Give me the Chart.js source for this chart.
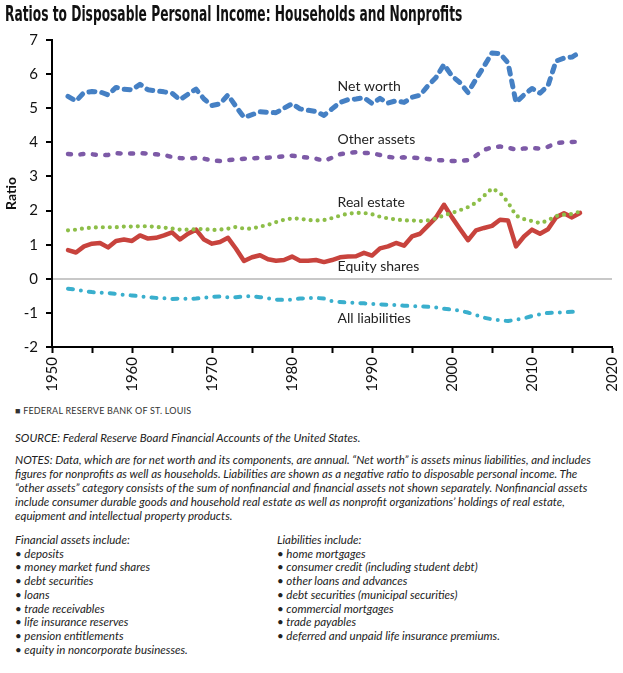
<!DOCTYPE html>
<html>
<head>
<meta charset="utf-8">
<script src="https://cdn.jsdelivr.net/npm/chart.js@4.4.1/dist/chart.umd.min.js"></script>
<style>
  body { margin: 0; background: #fff; width: 623px; height: 673px; position: relative; overflow: hidden; font-family: Lato, "Open Sans", sans-serif; color: #222; }
  #title { position: absolute; left: 5px; top: 2px; font-family: "Liberation Sans Narrow", "DejaVu Sans Condensed", sans-serif; font-weight: bold; font-size: 21px; white-space: nowrap; transform-origin: 0 0; color: #111; }
  #wrap { position: absolute; left: 0; top: 0; width: 623px; height: 400px; }
  #myChart { display: block; width: 623px; height: 400px; }
  .t { position: absolute; left: 15px; white-space: nowrap; font-style: italic; font-size: 11.5px; color: #222; }
  #frb { position: absolute; left: 15px; top: 405px; font-size: 9px; letter-spacing: 0.2px; color: #333; white-space: nowrap; }
  #notes { top: 453px; line-height: 14px; }
  .col { position: absolute; top: 533px; font-style: italic; font-size: 11.5px; line-height: 13.7px; white-space: nowrap; color: #222; }
</style>
</head>
<body>
<div id="wrap"><canvas id="myChart" width="623" height="400"></canvas></div>
<div id="title">Ratios to Disposable Personal Income: Households and Nonprofits</div>
<div id="frb">&#9632; FEDERAL RESERVE BANK OF ST. LOUIS</div>
<div class="t" style="top:431px">SOURCE: Federal Reserve Board Financial Accounts of the United States.</div>
<div class="t" id="notes">NOTES: Data, which are for net worth and its components, are annual. “Net worth” is assets minus liabilities, and includes<br>figures for nonprofits as well as households. Liabilities are shown as a negative ratio to disposable personal income. The<br>“other assets” category consists of the sum of nonfinancial and financial assets not shown separately. Nonfinancial assets<br>include consumer durable goods and household real estate as well as nonprofit organizations’ holdings of real estate,<br>equipment and intellectual property products.</div>
<div class="col" style="left:15px">Financial assets include:<br>• deposits<br>• money market fund shares<br>• debt securities<br>• loans<br>• trade receivables<br>• life insurance reserves<br>• pension entitlements<br>• equity in noncorporate businesses.</div>
<div class="col" style="left:277px">Liabilities include:<br>• home mortgages<br>• consumer credit (including student debt)<br>• other loans and advances<br>• debt securities (municipal securities)<br>• commercial mortgages<br>• trade payables<br>• deferred and unpaid life insurance premiums.</div>
<script>
var years = [];
for (var y = 1952; y <= 2016; y++) years.push(y);

var netWorth = [5.35, 5.21, 5.46, 5.49, 5.48, 5.39, 5.61, 5.56, 5.54, 5.70,
  5.54, 5.51, 5.48, 5.44, 5.25, 5.41, 5.56, 5.27, 5.08, 5.13,
  5.39, 5.05, 4.73, 4.81, 4.90, 4.88, 4.87, 5.00, 5.13, 4.98,
  4.94, 4.90, 4.79, 4.98, 5.17, 5.25, 5.27, 5.31, 5.14, 5.29,
  5.15, 5.22, 5.17, 5.32, 5.38, 5.66, 5.90, 6.28, 5.94, 5.75,
  5.46, 5.85, 6.23, 6.62, 6.60, 6.33, 5.17, 5.39, 5.58, 5.44,
  5.66, 6.38, 6.47, 6.50, 6.64];
var otherAssets = [3.66, 3.63, 3.66, 3.65, 3.62, 3.63, 3.68, 3.67, 3.67, 3.68,
  3.67, 3.65, 3.63, 3.57, 3.54, 3.53, 3.54, 3.52, 3.47, 3.45,
  3.48, 3.50, 3.52, 3.53, 3.55, 3.55, 3.57, 3.59, 3.61, 3.57,
  3.55, 3.52, 3.46, 3.55, 3.65, 3.69, 3.71, 3.69, 3.68, 3.63,
  3.57, 3.55, 3.56, 3.55, 3.54, 3.51, 3.48, 3.47, 3.45, 3.45,
  3.48, 3.61, 3.78, 3.85, 3.88, 3.84, 3.79, 3.82, 3.83, 3.82,
  3.87, 3.98, 4.00, 4.01, 4.02];
var realEstate = [1.42, 1.44, 1.48, 1.50, 1.51, 1.51, 1.51, 1.53, 1.53, 1.54,
  1.54, 1.52, 1.50, 1.47, 1.44, 1.44, 1.45, 1.46, 1.43, 1.44,
  1.47, 1.52, 1.47, 1.47, 1.53, 1.58, 1.66, 1.73, 1.77, 1.76,
  1.72, 1.71, 1.72, 1.78, 1.85, 1.91, 1.93, 1.93, 1.89, 1.82,
  1.77, 1.74, 1.71, 1.71, 1.69, 1.71, 1.77, 1.86, 1.93, 2.01,
  2.10, 2.23, 2.43, 2.65, 2.52, 2.24, 1.85, 1.75, 1.69, 1.63,
  1.71, 1.84, 1.88, 1.90, 1.97];
var equityShares = [0.84, 0.77, 0.95, 1.03, 1.05, 0.92, 1.11, 1.15, 1.11, 1.27,
  1.18, 1.20, 1.27, 1.36, 1.15, 1.32, 1.44, 1.15, 1.03, 1.08,
  1.20, 0.88, 0.52, 0.63, 0.69, 0.57, 0.53, 0.55, 0.65, 0.53,
  0.53, 0.55, 0.49, 0.55, 0.63, 0.65, 0.66, 0.76, 0.68, 0.89,
  0.95, 1.05, 0.97, 1.24, 1.32, 1.56, 1.80, 2.17, 1.80, 1.46,
  1.13, 1.42, 1.49, 1.55, 1.73, 1.71, 0.95, 1.24, 1.44, 1.32,
  1.45, 1.80, 1.92, 1.80, 1.93];
var allLiabilities = [-0.29, -0.32, -0.36, -0.39, -0.41, -0.42, -0.44, -0.47, -0.49, -0.51,
  -0.54, -0.56, -0.57, -0.59, -0.58, -0.59, -0.58, -0.56, -0.53, -0.52,
  -0.54, -0.54, -0.52, -0.51, -0.54, -0.57, -0.61, -0.62, -0.61, -0.58,
  -0.57, -0.56, -0.58, -0.66, -0.68, -0.70, -0.71, -0.72, -0.74, -0.75,
  -0.76, -0.77, -0.79, -0.80, -0.81, -0.82, -0.84, -0.88, -0.90, -0.94,
  -0.99, -1.06, -1.14, -1.19, -1.22, -1.24, -1.20, -1.16, -1.09, -1.04,
  -1.00, -0.99, -0.98, -0.97, -0.96];

// in-chart series names, anchored in data units
var seriesLabels = [
  { text: 'Net worth', x: 1985.7, y: 5.64 },
  { text: 'Other assets', x: 1985.7, y: 4.08 },
  { text: 'Real estate', x: 1985.7, y: 2.23 },
  { text: 'Equity shares', x: 1985.7, y: 0.36 },
  { text: 'All liabilities', x: 1985.7, y: -1.17 }
];

function pts(vals) {
  return years.map(function (yr, i) { return { x: yr, y: vals[i] }; });
}

function series(label, vals, color, width, dash) {
  return {
    label: label,
    data: pts(vals),
    borderColor: color,
    borderWidth: width,
    borderDash: dash,
    borderCapStyle: 'round',
    borderJoinStyle: 'round',
    pointRadius: 0,
    tension: 0,
    fill: false
  };
}

var labelPlugin = {
  id: 'seriesLabels',
  afterDatasetsDraw: function (chart) {
    var c = chart.ctx;
    var xs = chart.scales.x, ys = chart.scales.y;
    c.save();
    c.font = '14px Lato, sans-serif';
    c.fillStyle = '#222';
    c.textBaseline = 'middle';
    seriesLabels.forEach(function (l) {
      c.fillText(l.text, xs.getPixelForValue(l.x), ys.getPixelForValue(l.y));
    });
    c.restore();
  }
};

var ctx = document.getElementById('myChart').getContext('2d');

var myChart = new Chart(ctx, {
  type: 'line',
  data: {
    datasets: [
      series('Net worth', netWorth, '#4580C4', 5, [6, 7]),
      series('Other assets', otherAssets, '#7D5AA7', 4.5, [3, 9.5]),
      series('Real estate', realEstate, '#8DBE48', 4.2, [0, 7]),
      series('Equity shares', equityShares, '#C8433D', 4.5, []),
      series('All liabilities', allLiabilities, '#3AAFCD', 4, [5, 8, 0, 8])
    ]
  },
  options: {
    responsive: false,
    maintainAspectRatio: false,
    animation: false,
    devicePixelRatio: 1,
    layout: { padding: { top: 40, right: 11, left: 0, bottom: 0 } },
    plugins: { legend: { display: false }, tooltip: { enabled: false } },
    scales: {
      x: {
        type: 'linear',
        min: 1950,
        max: 2020,
        afterFit: function (s) { s.height = 53; s.paddingLeft = 0; s.paddingRight = 0; },
        border: { color: '#000', width: 2 },
        grid: { drawOnChartArea: false, drawTicks: true, tickLength: 6, tickColor: '#000', tickWidth: 2 },
        ticks: {
          stepSize: 5,
          autoSkip: false,
          minRotation: 90,
          maxRotation: 90,
          padding: 4,
          color: '#111',
          font: { family: 'Lato, sans-serif', size: 15 },
          callback: function (v) { return v % 10 === 0 ? String(v) : ''; }
        }
      },
      y: {
        min: -2,
        max: 7,
        afterFit: function (s) { s.width = 52; s.paddingTop = 0; s.paddingBottom = 0; },
        border: { color: '#000', width: 2 },
        grid: {
          color: function (c) { return c.tick && c.tick.value === 0 ? '#c8c8c8' : 'rgba(0,0,0,0)'; },
          lineWidth: 2,
          drawTicks: true,
          tickLength: 6,
          tickColor: '#000',
          tickWidth: 2
        },
        ticks: {
          stepSize: 1,
          padding: 8,
          color: '#111',
          font: { family: 'Lato, sans-serif', size: 15 }
        },
        title: {
          display: true,
          text: 'Ratio',
          color: '#111',
          padding: { top: 3, bottom: 0 },
          font: { family: 'Lato, sans-serif', size: 14, weight: 'bold' }
        }
      }
    }
  },
  plugins: [labelPlugin]
});

// squeeze the condensed title to the reference width
var t = document.getElementById('title');
t.style.transform = 'scaleX(' + (457 / t.offsetWidth) + ')';
</script>
</body>
</html>
